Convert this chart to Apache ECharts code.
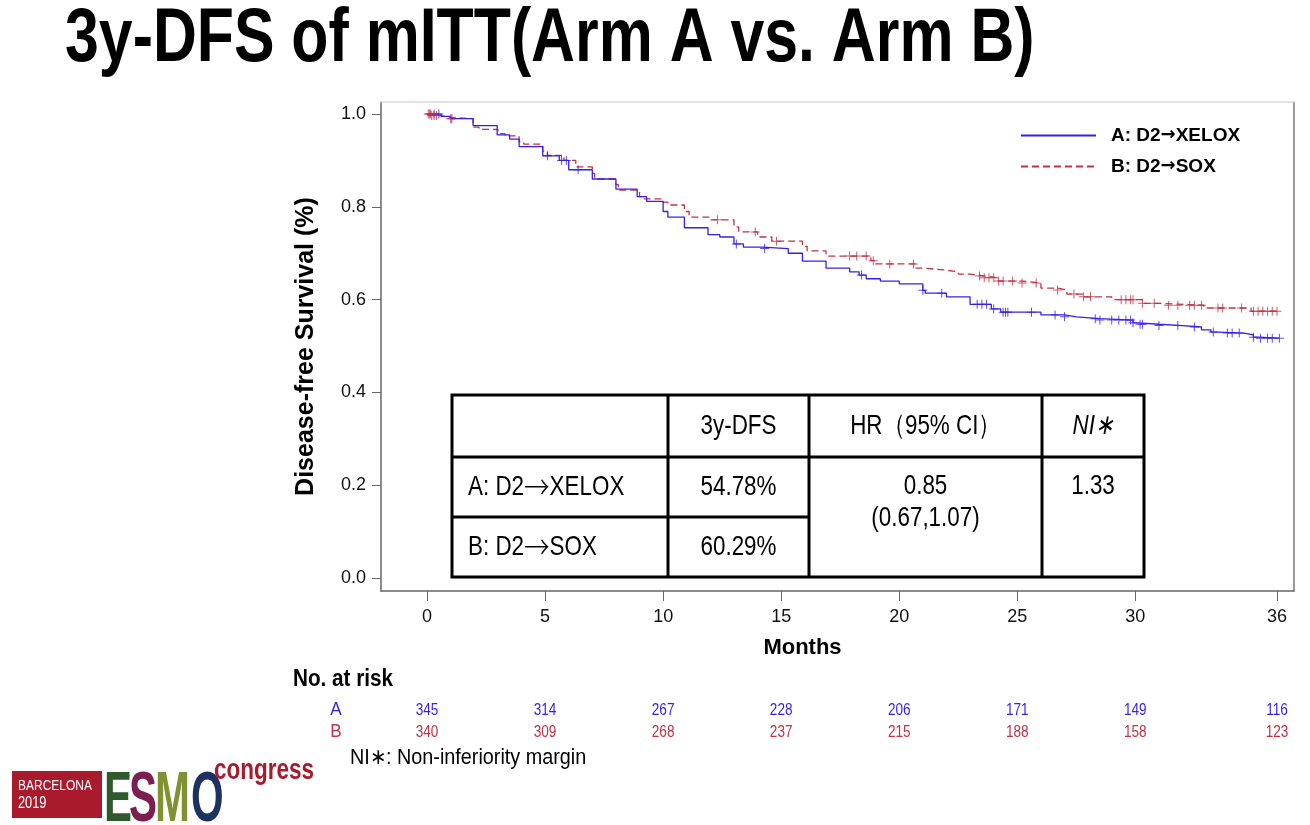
<!DOCTYPE html>
<html><head><meta charset="utf-8">
<script src="https://cdn.jsdelivr.net/npm/echarts@6/dist/echarts.min.js"></script>
<style>html,body{margin:0;padding:0;background:#fff}#c{width:1310px;height:825px}</style>
</head><body><div id="c"></div>
<script>
const titleText = '3y-DFS of mITT(Arm A vs. Arm B)';
const seriesNames = ['A: D2→XELOX', 'B: D2→SOX'];
const xName = 'Months';
const yName = 'Disease-free Survival (%)';
const xTicks = [0, 5, 10, 15, 20, 25, 30, 36];
const yTicks = [0, 0.2, 0.4, 0.6, 0.8, 1.0];
// Kaplan-Meier steps: [month, survival from that month on]
const armA = [[0,1.0],[0.6,0.995],[1.0,0.99],[1.95,0.975],[2.97,0.955],[3.5,0.946],[3.9,0.93],[4.9,0.91],[5.6,0.9],[6.0,0.88],[7.0,0.86],[8.0,0.838],[8.9,0.822],[9.3,0.812],[10.0,0.79],[10.2,0.778],[10.9,0.755],[11.9,0.74],[12.4,0.735],[13.0,0.72],[13.4,0.713],[14.2,0.71],[15.3,0.7],[15.9,0.683],[16.9,0.668],[17.9,0.66],[18.3,0.653],[18.6,0.645],[19.2,0.64],[20.0,0.634],[21.0,0.62],[21.1,0.614],[22.0,0.606],[23.0,0.59],[23.9,0.58],[24.3,0.573],[26.0,0.567],[27.0,0.563],[27.5,0.559],[28.5,0.556],[29.9,0.55],[30.1,0.547],[31.0,0.544],[32.0,0.541],[32.8,0.535],[33.2,0.53],[33.5,0.528],[34.6,0.524],[35.0,0.519],[35.2,0.517],[36.1,0.517]];
const armB = [[0,1.0],[0.2,0.997],[0.5,0.993],[1.0,0.99],[1.95,0.972],[2.2,0.967],[3.0,0.958],[3.3,0.953],[3.9,0.94],[4.1,0.935],[4.9,0.92],[5.1,0.911],[5.8,0.9],[6.3,0.886],[7.0,0.872],[7.1,0.86],[8.0,0.848],[8.1,0.836],[9.0,0.822],[9.2,0.817],[10.0,0.81],[10.2,0.804],[10.9,0.79],[11.1,0.778],[12.0,0.772],[13.0,0.757],[13.2,0.746],[14.0,0.735],[14.6,0.726],[15.9,0.715],[16.1,0.705],[16.9,0.694],[18.8,0.684],[19.0,0.677],[20.7,0.668],[21.0,0.664],[21.9,0.66],[22.5,0.655],[23.0,0.651],[23.6,0.647],[24.2,0.64],[25.2,0.636],[26.0,0.625],[26.7,0.621],[27.1,0.612],[27.8,0.606],[29.0,0.6],[30.3,0.592],[31.0,0.588],[32.9,0.582],[34.9,0.575],[36.1,0.575]];
// censoring times (months)
const censorA = [0.3,0.5,1.05,5.1,5.7,5.9,6.4,13.1,14.3,18.4,21.0,21.8,23.3,23.5,23.7,24.0,24.4,24.5,24.6,25.6,26.6,27.0,28.3,28.5,29.0,29.3,29.6,29.8,29.9,30.2,30.3,31.0,31.8,32.5,33.3,33.9,34.1,34.4,35.0,35.3,35.6,35.8,36.1];
const censorB = [0.05,0.1,0.15,0.2,0.3,0.4,1.0,12.3,13.9,14.8,17.9,18.2,18.6,18.9,19.6,20.6,23.4,23.6,23.8,24.0,24.2,24.4,24.8,25.2,25.8,26.7,27.4,27.8,28.1,29.4,29.6,29.8,29.9,30.3,30.8,31.4,31.8,32.3,32.5,32.8,33.5,33.7,34.5,35.0,35.2,35.4,35.6,35.8,36.0];
const riskLabel = 'No. at risk';
const riskArms = ['A', 'B'];
const riskA = [345, 314, 267, 228, 206, 171, 149, 116];
const riskB = [340, 309, 268, 237, 215, 188, 158, 123];
const tableHeader = ['', '3y-DFS', 'HR（95% CI）', 'NI∗'];
const tableRowLabels = ['A: D2→XELOX', 'B: D2→SOX'];
const tableDFS = ['54.78%', '60.29%'];
const tableHR = ['0.85', '(0.67,1.07)'];
const tableNI = '1.33';
const footnote = 'NI∗: Non-inferiority margin';

const FONT = '"Liberation Sans", Arial, Helvetica, sans-serif';
const ARROWFONT = '"DejaVu Sans", sans-serif';
const CJKFONT = '"Noto Sans CJK SC", "DejaVu Sans", sans-serif';
const BLUE = '#3a1ee8';
const RED = '#c03246';

function survAt(curve, t) {
  let s = curve[0][1];
  for (const p of curve) { if (p[0] <= t) s = p[1]; }
  return s;
}
// split text on the arrow so the arrow can use a font with a longer arrow glyph
function arrowRich(t) {
  return t.split('→').map(s => s ? '{t|' + s + '}' : '').join('{ar|→}');
}
const plus = 'path://M4,0h1v4h4v1h-4v4h-1v-4h-4v-1h4z';

const chart = echarts.init(document.getElementById('c'), null, {renderer: 'canvas'});
chart.setOption({
  animation: false,
  backgroundColor: '#fff',
  grid: {left: 381, top: 102, width: 913, height: 489, containLabel: false},
  legend: {
    data: seriesNames, orient: 'vertical', left: 1015, top: 121,
    itemWidth: 75, itemHeight: 14, itemGap: 12,
    itemStyle: {opacity: 0},
    formatter: n => arrowRich(n),
    textStyle: {
      padding: [0, 0, 0, 10],
      rich: {
        t: {fontFamily: FONT, fontSize: 19, fontWeight: 'bold', color: '#000', lineHeight: 22},
        ar: {fontFamily: ARROWFONT, fontSize: 18, fontWeight: 'bold', color: '#000', lineHeight: 22}
      }
    }
  },
  xAxis: [{
    type: 'value', min: -1.95, max: 36.72, position: 'bottom',
    axisLine: {onZero: false, lineStyle: {color: '#666', width: 1.5}},
    axisTick: {customValues: xTicks, length: 10, lineStyle: {color: '#666'}},
    axisLabel: {customValues: xTicks, fontFamily: FONT, fontSize: 18, color: '#111', margin: 17},
    splitLine: {show: false},
    name: xName, nameLocation: 'middle', nameGap: 46,
    nameTextStyle: {fontFamily: FONT, fontSize: 22, fontWeight: 'bold', color: '#000', padding: [0, 70, 0, 0]}
  }, {
    type: 'value', min: -1.95, max: 36.72, position: 'top',
    axisLine: {onZero: false, lineStyle: {color: '#dadada', width: 1.5}},
    axisTick: {show: false}, axisLabel: {show: false}, splitLine: {show: false}
  }],
  yAxis: [{
    type: 'value', min: -0.028, max: 1.026, position: 'left',
    axisLine: {show: true, onZero: false, lineStyle: {color: '#666', width: 1.5}},
    axisTick: {show: true, customValues: yTicks, length: 9, lineStyle: {color: '#666'}},
    axisLabel: {customValues: yTicks, formatter: v => v.toFixed(1), fontFamily: FONT, fontSize: 18, color: '#111', margin: 15},
    splitLine: {show: false},
    name: yName, nameLocation: 'middle', nameGap: 62, nameRotate: 90,
    nameTextStyle: {fontFamily: FONT, fontSize: 25, fontWeight: 'bold', color: '#000'}
  }, {
    type: 'value', min: -0.028, max: 1.026, position: 'right',
    axisLine: {show: true, onZero: false, lineStyle: {color: '#7a7a7a', width: 1.5}},
    axisTick: {show: false}, axisLabel: {show: false}, splitLine: {show: false}
  }],
  series: [{
    name: seriesNames[0], type: 'line', step: 'end', symbol: 'none', data: armA,
    lineStyle: {color: BLUE, width: 1.3}, itemStyle: {color: BLUE}, z: 3
  }, {
    name: seriesNames[1], type: 'line', step: 'end', symbol: 'none', data: armB,
    lineStyle: {color: RED, width: 1.3, type: [7, 4]}, itemStyle: {color: RED}, z: 2
  }, {
    name: 'censorA', type: 'scatter', symbol: plus, symbolSize: 9,
    data: censorA.map(t => [t, survAt(armA, t)]), itemStyle: {color: BLUE}, z: 4
  }, {
    name: 'censorB', type: 'scatter', symbol: plus, symbolSize: 9,
    data: censorB.map(t => [t, survAt(armB, t)]), itemStyle: {color: RED}, z: 4
  }]
});

// ---------- graphic overlay ----------
const els = [];
function txt(x, y, text, o) {
  o = o || {};
  els.push({
    type: 'text', x: x, y: y, scaleX: o.sx || 1, z: 100,
    style: {
      text: text, fill: o.fill || '#000',
      font: (o.italic ? 'italic ' : '') + (o.bold ? 'bold ' : '') + (o.size || 16) + 'px ' + (o.family || FONT),
      align: o.align || 'left', verticalAlign: o.va || 'middle'
    }
  });
}
function line(x1, y1, x2, y2, w, c) {
  els.push({type: 'line', z: 100, shape: {x1, y1, x2, y2}, style: {stroke: c || '#000', lineWidth: w || 3}});
}
// title
txt(65, 40, titleText, {bold: true, size: 76, sx: 0.8});

// table
const TL = 452, TR = 1144, TT = 395, TB = 577;
const cx = [452, 668, 809, 1042, 1144];
const ry = [395, 457, 517, 577];
els.push({type: 'rect', z: 99, shape: {x: TL, y: TT, width: TR - TL, height: TB - TT}, style: {fill: '#fff', stroke: '#000', lineWidth: 3}});
line(cx[1], TT, cx[1], TB); line(cx[2], TT, cx[2], TB); line(cx[3], TT, cx[3], TB);
line(TL, ry[1], TR, ry[1]); line(TL, ry[2], cx[2], ry[2]);
const TS = 28, TSX = 0.8;
function ctxt(xc, y, text, o) {
  o = Object.assign({size: TS}, o || {});
  els.push({
    type: 'text', x: xc, y: y, scaleX: TSX, z: 101,
    style: {text: text, fill: '#000', font: (o.italic ? 'italic ' : '') + o.size + 'px ' + FONT, align: 'center', verticalAlign: 'middle'}
  });
}
for (let i = 1; i < 4; i++) ctxt((cx[i] + cx[i + 1]) / 2, (ry[0] + ry[1]) / 2, tableHeader[i], {italic: i === 3});
tableRowLabels.forEach((t, i) => {
  els.push({type: 'text', x: 468, y: (ry[i + 1] + ry[i + 2]) / 2, scaleX: TSX, z: 101,
    style: {
      text: arrowRich(t), align: 'left', verticalAlign: 'middle',
      rich: {
        t: {fill: '#000', font: TS + 'px ' + FONT},
        ar: {fill: '#000', font: '300 ' + (TS + 4) + 'px ' + CJKFONT}
      }
    }});
  ctxt((cx[1] + cx[2]) / 2, (ry[i + 1] + ry[i + 2]) / 2, tableDFS[i]);
});
ctxt((cx[2] + cx[3]) / 2, 486, tableHR[0]);
ctxt((cx[2] + cx[3]) / 2, 518, tableHR[1]);
ctxt((cx[3] + cx[4]) / 2, 486, tableNI);

// at-risk table
txt(293, 680, riskLabel, {bold: true, size: 23, sx: 0.9});
txt(336, 710, riskArms[0], {size: 19, fill: BLUE, align: 'center', sx: 0.9});
txt(336, 732, riskArms[1], {size: 19, fill: RED, align: 'center', sx: 0.9});
xTicks.forEach((v, i) => {
  const px = chart.convertToPixel({xAxisIndex: 0}, v);
  txt(px, 711, String(riskA[i]), {size: 16, fill: BLUE, align: 'center', sx: 0.85});
  txt(px, 733, String(riskB[i]), {size: 16, fill: RED, align: 'center', sx: 0.85});
});
txt(350, 758, footnote, {size: 22, sx: 0.9});

// ESMO logo
els.push({type: 'rect', z: 100, shape: {x: 12, y: 771, width: 90, height: 47}, style: {fill: '#aa1a2d'}});
txt(18, 786, 'BARCELONA', {size: 15, fill: '#fff', sx: 0.8});
txt(18, 804, '2019', {size: 16, fill: '#fff', sx: 0.8});
[['E', 104, '#2e5a2c'], ['S', 129, '#7c1e4f'], ['M', 155, '#7f9130'], ['O', 191, '#1e3262']].forEach(l => {
  txt(l[1], 802, l[0], {bold: true, size: 70, fill: l[2], sx: 0.6});
});
txt(214, 771, 'congress', {bold: true, size: 30, fill: '#a51c2f', sx: 0.75});

chart.setOption({graphic: {elements: els}});
</script></body></html>
